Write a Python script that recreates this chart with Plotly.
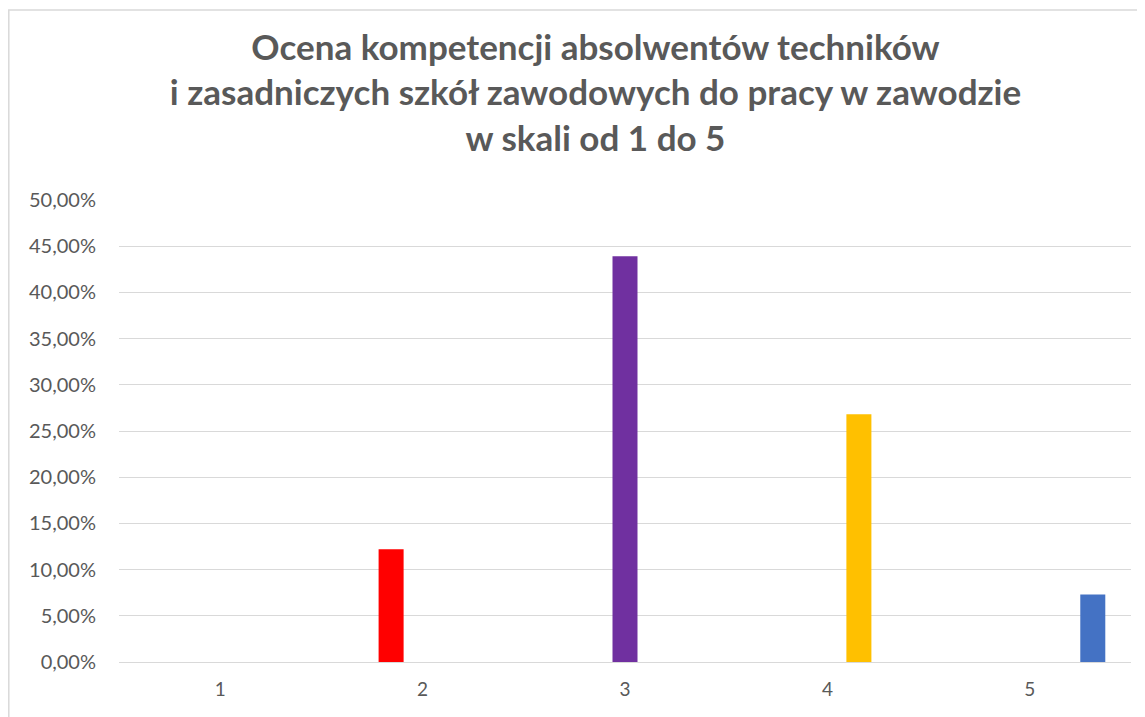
import plotly.graph_objects as go

# Ocena w skali 1-5 i odsetek odpowiedzi
categories = ["1", "2", "3", "4", "5"]
shares = [0.0, 0.122, 0.439, 0.268, 0.073]
colors = ["#A5A5A5", "#FF0000", "#7030A0", "#FFC000", "#4472C4"]

title_lines = [
    "Ocena kompetencji absolwentów techników",
    "i zasadniczych szkół zawodowych do pracy w zawodzie",
    "w skali od 1 do 5",
]

fig = go.Figure()

# one series per category, like the original spreadsheet chart
for i, (cat, val, col) in enumerate(zip(categories, shares, colors)):
    y = [None] * len(categories)
    y[i] = val
    fig.add_trace(go.Bar(
        x=categories,
        y=y,
        name=cat,
        marker=dict(color=col, line=dict(width=0)),
        hovertemplate="%{x}: %{y:.2%}<extra></extra>",
    ))

# page body has an 8px margin, so the figure is shrunk by that much
fig.update_layout(
    width=1137,
    height=709,
    barmode="group",
    bargap=0.222,
    bargroupgap=0.206,
    separators=",.",
    showlegend=False,
    paper_bgcolor="white",
    plot_bgcolor="white",
    font=dict(family="Lato, Carlito, Calibri, sans-serif", color="#595959"),
    title=dict(
        text="<b>" + "<br>".join(title_lines) + "</b>",
        x=0.5167,
        xanchor="center",
        y=0.927,
        yanchor="top",
        font=dict(size=35, color="#595959"),
    ),
    margin=dict(l=111, r=14, t=192, b=55),
    xaxis=dict(
        type="category",
        showgrid=False,
        showline=False,
        ticks="",
        tickfont=dict(size=19, color="#595959"),
        ticklabelstandoff=14,
    ),
    yaxis=dict(
        range=[0, 0.5],
        dtick=0.05,
        tickformat=".2%",
        showgrid=True,
        gridcolor="#D9D9D9",
        gridwidth=1.3,
        zeroline=True,
        zerolinecolor="#D9D9D9",
        zerolinewidth=1.3,
        showline=False,
        ticks="",
        ticklabelstandoff=22,
        tickfont=dict(size=20, color="#595959"),
    ),
    shapes=[
        dict(
            type="rect", xref="paper", yref="paper",
            x0=-0.1089, x1=1.03, y0=-0.14, y1=1.411,
            line=dict(color="#D9D9D9", width=1.5),
            fillcolor="rgba(0,0,0,0)",
            layer="below",
        )
    ],
)

fig.write_html("out.html")
